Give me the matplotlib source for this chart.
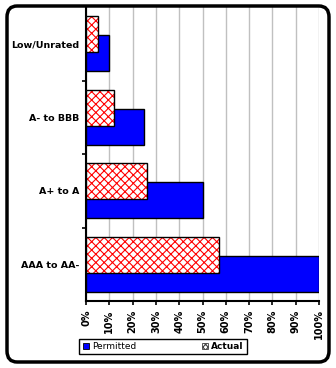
import numpy as np
import matplotlib.pyplot as plt
from matplotlib.patches import FancyBboxPatch, Patch

# ratings buckets, bottom to top as drawn
categories = ['AAA to AA-', 'A+ to A', 'A- to BBB', 'Low/Unrated']
permitted = [100, 50, 25, 10]
actual = [57, 26, 12, 5]
xticks = [0, 10, 20, 30, 40, 50, 60, 70, 80, 90, 100]

plt.rcParams['hatch.linewidth'] = 0.8

fig = plt.figure(figsize=(3.36, 3.68), dpi=100)
ax = fig.add_axes([86 / 336, 1 - 301 / 368, 233 / 336, 294 / 368])

y = np.arange(len(categories))
h = 0.49
off = 0.13

# permitted bars (blue, below)
ax.barh(y - off, permitted, height=h, color='#0000ff', edgecolor='black',
        linewidth=1, zorder=3)
# actual bars: red crosshatch on white, then black outline on top
ax.barh(y + off, actual, height=h, color='white', edgecolor='red',
        hatch='xxxx', linewidth=0, zorder=4)
ax.barh(y + off, actual, height=h, fill=False, edgecolor='black',
        linewidth=1, zorder=5)

ax.set_xlim(0, 100)
ax.set_ylim(-0.5, 3.5)
ax.set_xticks(xticks)
ax.set_xticklabels([f'{v}%' for v in xticks], rotation=90, fontsize=7,
                   fontweight='bold')
ax.grid(axis='x', color='#c0c0c0', linewidth=1, zorder=0)
ax.set_axisbelow(True)

ax.set_yticks([0.5, 1.5, 2.5])
ax.set_yticklabels([])
ax.set_yticks(y, minor=True)
ax.set_yticklabels(categories, minor=True, fontsize=6.8, fontweight='bold')
ax.tick_params(axis='y', which='minor', length=0, pad=5)
ax.tick_params(axis='y', which='major', length=3, width=1.2, direction='out')
ax.tick_params(axis='x', length=3, width=1.2, pad=3)

for s in ['top', 'right']:
    ax.spines[s].set_visible(False)
for s in ['left', 'bottom']:
    ax.spines[s].set_linewidth(1.5)

# rounded outer frame
frame = FancyBboxPatch((7 / 336, 6 / 368), 322 / 336, 356 / 368,
                       boxstyle='round,pad=0,rounding_size=0.03',
                       transform=fig.transFigure, fill=False,
                       edgecolor='black', linewidth=2.5)
fig.patches.append(frame)

h_perm = Patch(facecolor='#0000ff', edgecolor='black', linewidth=0.6)
h_act = Patch(facecolor='white', edgecolor='#404040', hatch='xxxxxx',
              linewidth=0.6)
leg = fig.legend([h_perm, h_act], ['Permitted', 'Actual'], ncol=2,
                 loc='center', bbox_to_anchor=(163 / 336, 1 - 346.5 / 368),
                 fontsize=6.5, handlelength=0.7, handleheight=0.7,
                 handletextpad=0.3, columnspacing=7.3, frameon=True,
                 fancybox=False, edgecolor='black', framealpha=1,
                 borderpad=0.35)
leg.get_frame().set_linewidth(1)
leg.get_texts()[1].set_fontweight('bold')
# red hatch inside the legend square when this matplotlib supports it
hb = leg.legend_handles[1]
if hasattr(hb, 'set_hatchcolor'):
    hb.set_hatchcolor('red')

fig.savefig('out.png', dpi=100)
